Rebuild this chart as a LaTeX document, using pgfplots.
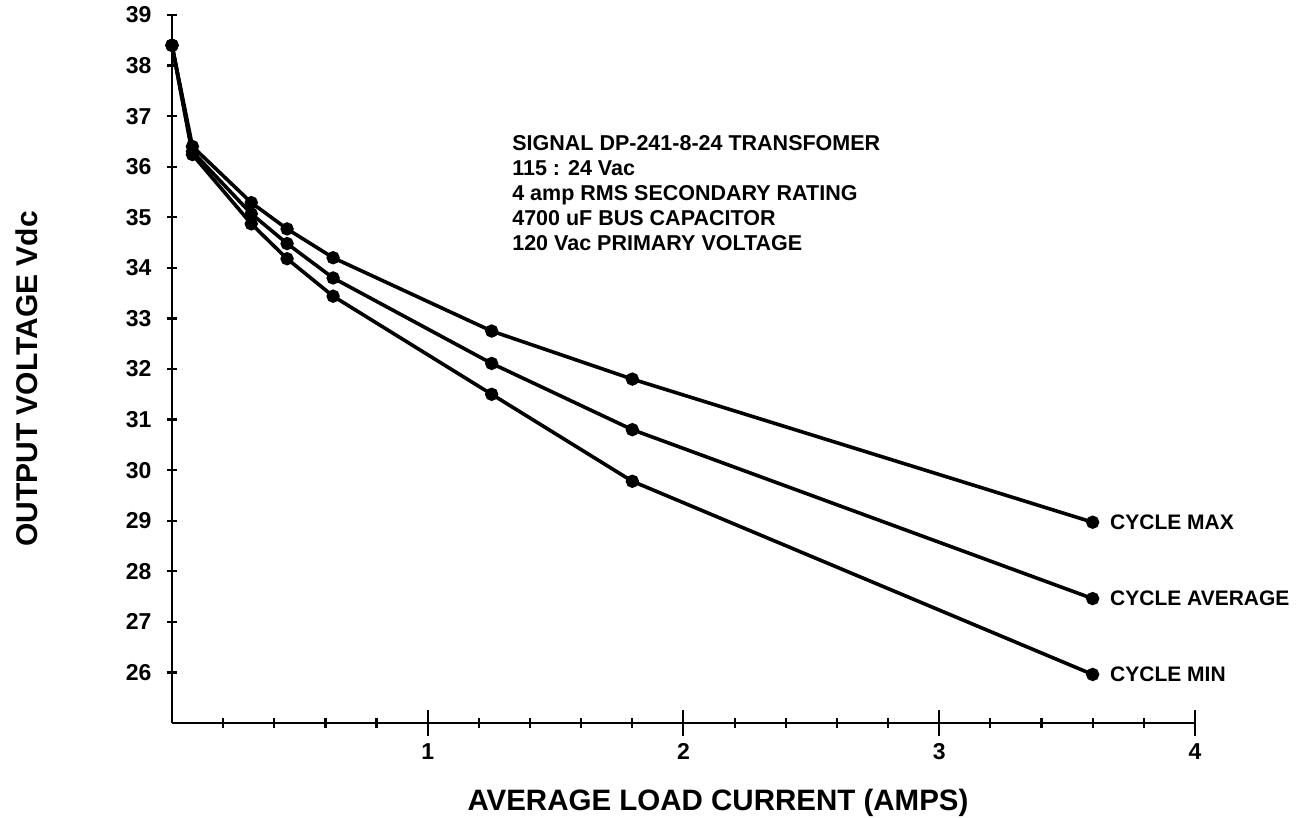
\documentclass[border=0pt]{standalone}
\usepackage{fontspec}
\setmainfont{Liberation Sans}
\usepackage{pgfplots}
\pgfplotsset{compat=1.18}
\begin{document}
\begin{tikzpicture}[x=1pt,y=1pt]
\useasboundingbox (-172,-94) rectangle (1143,723);
\begin{axis}[
  at={(0,0)}, anchor=south west,
  scale only axis, width=1023pt, height=708pt,
  xmin=0, xmax=4, ymin=25, ymax=39,
  axis x line=bottom, axis y line=left,
  axis line style={-, line width=2.6pt},
  clip=false,
  xtick={0.2,0.4,0.6,0.8,1.2,1.4,1.6,1.8,2.2,2.4,2.6,2.8,3.2,3.4,3.6,3.8},
  xticklabels={},
  extra x ticks={1,2,3,4},
  extra x tick labels={1,2,3,4},
  extra x tick style={major tick length=26pt, tick style={line width=2pt},
    tick label style={font=\bfseries\fontsize{23}{23}\selectfont}},
  ytick={26,27,...,39},
  tick align=center,
  major tick length=10pt,
  tick style={line width=2.2pt, black},
  /pgf/number format/assume math mode=true,
  tick label style={font=\bfseries\fontsize{23}{23}\selectfont},
  xticklabel style={yshift=-4pt},
  yticklabel style={xshift=-12pt},
]
\addplot[black, line width=3.6pt, mark=*, mark size=4.8pt, mark options={solid, fill=black}] coordinates {(0,38.4) (0.08,36.4) (0.31,35.29) (0.45,34.77) (0.63,34.2) (1.25,32.75) (1.8,31.8) (3.6,28.97)};
\addplot[black, line width=3.6pt, mark=*, mark size=4.8pt, mark options={solid, fill=black}] coordinates {(0,38.4) (0.08,36.3) (0.31,35.07) (0.45,34.48) (0.63,33.8) (1.25,32.11) (1.8,30.8) (3.6,27.46)};
\addplot[black, line width=3.6pt, mark=*, mark size=4.8pt, mark options={solid, fill=black}] coordinates {(0,38.4) (0.08,36.24) (0.31,34.87) (0.45,34.18) (0.63,33.44) (1.25,31.5) (1.8,29.78) (3.6,25.96)};
\node[anchor=west, font=\fontsize{21}{21}\selectfont\bfseries] at (axis cs:3.6,28.97) [xshift=14pt] {CYCLE MAX};
\node[anchor=west, font=\fontsize{21}{21}\selectfont\bfseries] at (axis cs:3.6,27.46) [xshift=14pt] {CYCLE AVERAGE};
\node[anchor=west, font=\fontsize{21}{21}\selectfont\bfseries] at (axis cs:3.6,25.96) [xshift=14pt] {CYCLE MIN};
\node[anchor=north west, align=left, inner sep=0pt, font=\fontsize{21.5}{25}\selectfont\bfseries] at (axis cs:1.33,36.62)
  {SIGNAL DP-241-8-24 TRANSFOMER\\115 : 24 Vac\\4 amp RMS SECONDARY RATING\\4700 uF BUS CAPACITOR\\120 Vac PRIMARY VOLTAGE};
\node[font=\fontsize{29.5}{29.5}\selectfont\bfseries] at (axis cs:2.135,23.42) {AVERAGE LOAD CURRENT (AMPS)};
\node[rotate=90, font=\fontsize{30}{30}\selectfont\bfseries] at (axis cs:-0.567,31.8) {OUTPUT VOLTAGE Vdc};
\end{axis}
\end{tikzpicture}
\end{document}
